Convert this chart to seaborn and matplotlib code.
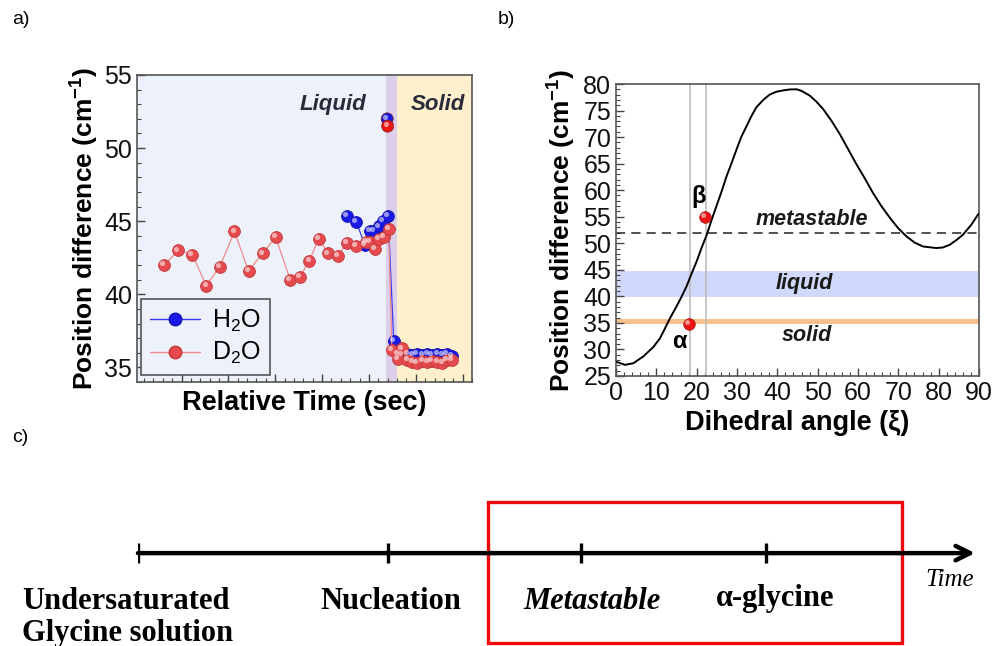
import numpy as np
import pandas as pd
import matplotlib
matplotlib.use("Agg")
import matplotlib.pyplot as plt
import seaborn as sns
from matplotlib.lines import Line2D
from matplotlib.patches import Rectangle
from matplotlib.ticker import MultipleLocator
from matplotlib.transforms import offset_copy

# ---------------- data ----------------
# panel a : position difference vs relative time
d2o_time = [6.3, 9.3, 12.3, 15.3, 18.2, 21.3, 24.3, 27.3, 30.1, 33.2, 35.3, 37.3, 39.3, 41.3,
            43.3, 45.3, 47.3, 49.3, 50.2, 51.2, 52.1, 53.2, 54.2, 54.9, 56.2, 57.1, 58.2, 59.3,
            60.3, 61.4, 62.5, 63.5, 64.6, 65.7, 66.7, 67.7]
d2o_shift = [42.0, 43.0, 42.7, 40.6, 41.9, 44.3, 41.6, 42.8, 43.9, 41.0, 41.2, 42.3, 43.8, 42.8,
             42.6, 43.5, 43.3, 43.6, 43.6, 43.1, 43.8, 43.9, 44.5, 36.2, 35.6, 36.3, 35.5, 35.4,
             35.3, 35.45, 35.4, 35.45, 35.35, 35.3, 35.5, 35.5]
h2o_time = [45.3, 47.3, 49.1, 50.2, 51.0, 52.1, 53.0, 54.1, 55.3, 56.1, 57.1, 58.2, 59.3, 60.3,
            61.4, 62.5, 63.5, 64.6, 65.7, 66.7, 67.7]
h2o_shift = [45.35, 44.95, 43.4, 44.35, 44.35, 44.65, 45.0, 45.35, 36.8, 35.9, 35.85, 35.9, 35.85,
             35.9, 35.85, 35.9, 35.85, 35.9, 35.85, 35.9, 35.8]
peak_time = [53.9, 54.0]
peak_shift = [52.0, 51.5]
peak_series = ["H2O", "D2O"]
liquid_end = 53.75
solid_start = 56.05

# panel b : position difference vs dihedral angle
angle = [0, 2.2, 4.3, 6.8, 9.3, 10.9, 12.1, 13.4, 15.0, 16.3, 17.5, 18.75, 20.0, 21.2, 22.5,
         23.7, 24.9, 26.2, 27.4, 28.7, 29.9, 31.1, 32.4, 33.6, 34.8, 36.5, 38.1, 39.8, 41.5,
         43.1, 44.8, 46.0, 48.06, 49.7, 51.36, 53.4, 55.5, 59.6, 61.7, 63.7, 65.8, 67.9, 69.9,
         72.0, 74.1, 76.1, 79.4, 81.0, 82.7, 84.4, 86.0, 88.1, 89.75, 90]
angle_pos = [27.7, 27.1, 27.4, 28.7, 30.5, 32.1, 33.9, 35.9, 38.1, 40.0, 41.9, 44.3, 46.6, 49.1,
             51.6, 54.4, 57.0, 59.8, 62.6, 65.2, 67.7, 70.1, 72.1, 74.0, 75.6, 77.0, 78.0, 78.55,
             78.8, 78.97, 79.0, 78.7, 77.8, 76.66, 75.27, 73.1, 70.55, 64.9, 62.2, 59.5, 57.0,
             54.8, 52.9, 51.3, 50.1, 49.4, 49.1, 49.2, 49.7, 50.6, 51.6, 53.5, 55.4, 55.6]
poly_names = ["α", "β"]
poly_angle = [18.0, 22.05]
poly_pos = [34.8, 54.9]
ref_angles = [18.3, 22.2]
metastable_level = 51.9
liquid_band = (39.8, 44.7)
solid_band = (34.8, 35.7)

# panel c : timeline
stage_labels = ["Undersaturated\nGlycine solution", "Nucleation", "Metastable", "α-glycine"]
stage_time = [0.0, 1.0, 1.77, 2.51]
box_span = (1.4, 3.056)

# ---------------- style ----------------
sns.set_theme(style="ticks")
plt.rcParams["font.family"] = ["Liberation Sans", "DejaVu Sans"]
plt.rcParams["mathtext.fontset"] = "custom"
plt.rcParams["mathtext.rm"] = "Liberation Sans"
plt.rcParams["mathtext.bf"] = "Liberation Sans:bold"
plt.rcParams["mathtext.it"] = "Liberation Sans:italic"
plt.rcParams["xtick.direction"] = "in"
plt.rcParams["ytick.direction"] = "in"
plt.rcParams["text.color"] = "black"
plt.rcParams["axes.labelcolor"] = "black"

fig = plt.figure(figsize=(9.93, 6.46), dpi=100)
W, H = 993, 646
ax_a = fig.add_axes([137 / W, 1 - 382 / H, 335 / W, 307 / H])
ax_b = fig.add_axes([616 / W, 1 - 376 / H, 363 / W, 292 / H])
ax_c = fig.add_axes([138 / W, 0, (975 - 138) / W, 216 / H])

BLUE = "#1a1ae6"
RED = "#e64a4f"
BRIGHT_RED = "#ee1515"


def highlight(ax, x, y, size):
    tr = offset_copy(ax.transData, fig=fig, x=-1.3, y=1.3, units="points")
    sns.scatterplot(x=x, y=y, ax=ax, s=size, color="white", alpha=0.55, linewidth=0,
                    transform=tr, zorder=6, legend=False)


# ---------------- panel a ----------------
ax = ax_a
ax.axvspan(0.5, liquid_end, color="#edf1fa", zorder=0, lw=0)
ax.axvspan(liquid_end, solid_start, color="#dccfea", zorder=0, lw=0)
ax.axvspan(solid_start, 72, color="#fef0cc", zorder=0, lw=0)

dfh = pd.DataFrame({"t": h2o_time, "v": h2o_shift})
dfd = pd.DataFrame({"t": d2o_time, "v": d2o_shift})
sns.lineplot(data=dfh, x="t", y="v", ax=ax, sort=False, estimator=None, color="#3b3bf0",
             lw=0.9, marker="o", markersize=8.5, markerfacecolor=BLUE, markeredgecolor="#1010b0",
             markeredgewidth=0.6, zorder=3)
sns.lineplot(data=dfd, x="t", y="v", ax=ax, sort=False, estimator=None, color="#f08a8a",
             lw=0.9, marker="o", markersize=8.5, markerfacecolor=RED, markeredgecolor="#c03838",
             markeredgewidth=0.6, zorder=4)
dfp = pd.DataFrame({"t": peak_time, "v": peak_shift, "s": peak_series})
sns.scatterplot(data=dfp, x="t", y="v", hue="s", palette={"H2O": BLUE, "D2O": BRIGHT_RED},
                ax=ax, s=75, edgecolor="#802020", linewidth=0.5, zorder=5, legend=False)
highlight(ax, h2o_time + d2o_time + peak_time, h2o_shift + d2o_shift + peak_shift, 14)

ax.set_xlim(0.5, 72)
ax.set_ylim(34, 55)
ax.xaxis.set_major_locator(MultipleLocator(10))
ax.xaxis.set_minor_locator(MultipleLocator(2))
ax.yaxis.set_major_locator(MultipleLocator(5))
ax.yaxis.set_minor_locator(MultipleLocator(1))
ax.tick_params(axis="x", which="both", labelbottom=False, top=False)
ax.tick_params(axis="y", which="both", right=False, labelsize=18, labelcolor="#111111")
ax.tick_params(which="major", length=6, width=1, color="#444444")
ax.tick_params(which="minor", length=3, width=0.8, color="#444444")
ax.set_xlabel("Relative Time (sec)", fontsize=19.5, fontweight="bold", labelpad=6)
ax.set_ylabel(r"Position difference (cm$^{\mathbf{-1}}$)", fontsize=19, fontweight="bold",
              labelpad=2)
for s in ax.spines.values():
    s.set_color("#555555")
    s.set_linewidth(1.2)
ax.text(42.4, 52.95, "Liquid", fontsize=16, fontweight="bold", style="italic",
        color="#2a2a3a", ha="center", va="center")
ax.text(64.7, 52.95, "Solid", fontsize=16, fontweight="bold", style="italic",
        color="#2a2a3a", ha="center", va="center")
handles = [Line2D([], [], color="#3b3bf0", lw=1, marker="o", markersize=9,
                  markerfacecolor=BLUE, markeredgecolor="#1010b0"),
           Line2D([], [], color="#f08a8a", lw=1, marker="o", markersize=9,
                  markerfacecolor=RED, markeredgecolor="#c03838")]
leg = ax.legend(handles, ["H$_2$O", "D$_2$O"], loc="lower left", bbox_to_anchor=(0.012, 0.022),
                borderaxespad=0, fontsize=18, frameon=True, fancybox=False, handlelength=2.0,
                handletextpad=0.5, borderpad=0.35, labelspacing=0.25)
leg.get_frame().set_edgecolor("#555555")
leg.get_frame().set_facecolor("#edf1fa")
leg.get_frame().set_linewidth(1.2)
leg.get_frame().set_alpha(1)

# ---------------- panel b ----------------
ax = ax_b
ax.axhspan(*liquid_band, color="#d0d9fb", lw=0, zorder=0)
ax.axhspan(*solid_band, color="#f8c08d", lw=0, zorder=0)
for a in ref_angles:
    ax.axvline(a, color="#bdbdbd", lw=1.2, zorder=1)
ax.axhline(metastable_level, color="#222222", lw=1.1, ls=(0, (6, 4)), zorder=1)
dfc = pd.DataFrame({"angle": angle, "pos": angle_pos})
sns.lineplot(data=dfc, x="angle", y="pos", ax=ax, color="black", lw=1.4, sort=False,
             estimator=None, zorder=3)
dfpoly = pd.DataFrame({"angle": poly_angle, "pos": poly_pos, "name": poly_names})
sns.scatterplot(data=dfpoly, x="angle", y="pos", ax=ax, color=BRIGHT_RED, s=70,
                edgecolor="#a01010", linewidth=0.5, zorder=5, legend=False)
highlight(ax, poly_angle, poly_pos, 12)
ax.text(15.7, 31.5, poly_names[0], fontsize=17, fontweight="bold", ha="center", va="center")
ax.text(20.5, 58.9, poly_names[1], fontsize=17, fontweight="bold", ha="center", va="center")
ax.text(48.6, 54.4, "metastable", fontsize=15.5, fontweight="bold", style="italic",
        ha="center", va="center", color="#1a1a1a")
ax.text(46.7, 42.4, "liquid", fontsize=15.5, fontweight="bold", style="italic",
        ha="center", va="center", color="#1a1a1a")
ax.text(47.3, 32.6, "solid", fontsize=15.5, fontweight="bold", style="italic",
        ha="center", va="center", color="#1a1a1a")
ax.set_xlim(0, 90)
ax.set_ylim(25, 80)
ax.xaxis.set_major_locator(MultipleLocator(10))
ax.xaxis.set_minor_locator(MultipleLocator(2))
ax.yaxis.set_major_locator(MultipleLocator(5))
ax.yaxis.set_minor_locator(MultipleLocator(1))
ax.tick_params(which="both", top=False, right=False, labelsize=18, labelcolor="#111111")
ax.tick_params(which="major", length=6, width=1, color="#444444")
ax.tick_params(which="minor", length=3, width=0.8, color="#444444")
ax.set_xlabel("Dihedral angle (ξ)", fontsize=19.5, fontweight="bold", labelpad=4)
ax.set_ylabel(r"Position difference (cm$^{\mathbf{-1}}$)", fontsize=19, fontweight="bold",
              labelpad=4)
for s in ax.spines.values():
    s.set_color("#555555")
    s.set_linewidth(1.2)

# ---------------- panel c ----------------
ax = ax_c
ax.set_xlim(0, (975 - 138) / 250)
ax.set_ylim(0, 1)
ax.axis("off")
y_arrow = 0.43
ax.annotate("", xy=(ax.get_xlim()[1], y_arrow), xytext=(stage_time[0], y_arrow),
            arrowprops=dict(arrowstyle="->", lw=3.2, color="black", mutation_scale=26,
                            shrinkA=0, shrinkB=0))
for t in stage_time:
    ax.plot([t, t], [y_arrow - 0.045, y_arrow + 0.045], color="black", lw=2.4,
            solid_capstyle="butt")
ax.add_patch(Rectangle((box_span[0], 0.014), box_span[1] - box_span[0], 0.653, fill=False,
                       edgecolor="#ee0a0a", lw=2.4, clip_on=False))
serif = ["Liberation Serif", "DejaVu Serif"]
first_line, second_line = stage_labels[0].split("\n")
ax.text(-0.464, 0.208, first_line, family=serif, fontsize=22, color="black",
        fontweight="bold", ha="left", va="center", clip_on=False)
ax.text(-0.464, 0.06, second_line, family=serif, fontsize=22, color="black",
        fontweight="bold", ha="left", va="center", clip_on=False)
ax.text(stage_time[1] + 0.01, 0.208, stage_labels[1], family=serif, fontsize=22, color="black",
        fontweight="bold", ha="center", va="center")
ax.text(stage_time[2] + 0.045, 0.208, stage_labels[2], family=serif, fontsize=22, color="black",
        fontweight="bold", style="italic", ha="center", va="center")
ax.text(stage_time[3] + 0.04, 0.222, stage_labels[3], family=serif, fontsize=22, color="black",
        fontweight="bold", ha="center", va="center")
ax.text(3.248, 0.306, "Time", family=serif, fontsize=18, style="italic", ha="center",
        va="center", color="black", clip_on=False)

# panel letters
fig.text(12 / W, 1 - 20 / H, "a)", fontsize=14, va="center", ha="left", color="black")
fig.text(498 / W, 1 - 20 / H, "b)", fontsize=14, va="center", ha="left", color="black")
fig.text(12 / W, 1 - 437 / H, "c)", fontsize=14, va="center", ha="left", color="black")

fig.savefig("out.png", dpi=100)
